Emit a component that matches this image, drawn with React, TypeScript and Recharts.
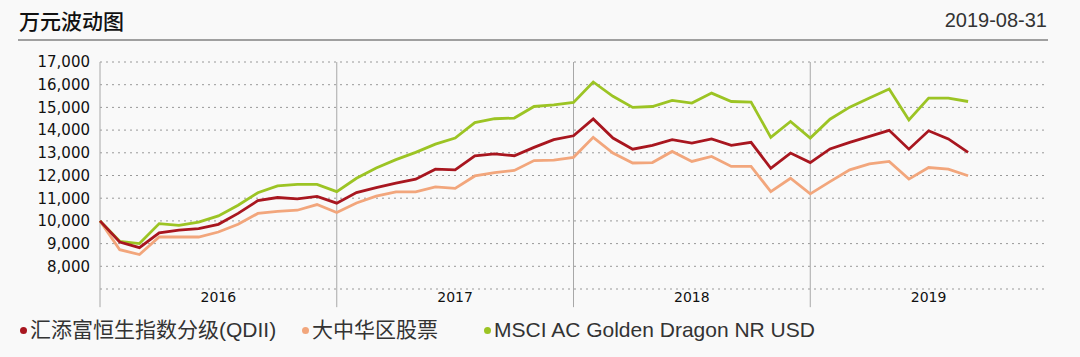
import React from 'react';
import { LineChart, Line, XAxis, YAxis, CartesianGrid, ReferenceLine } from 'recharts';

// month-end points, Dec 2015 .. Aug 2019
const fund = [
    10000, 9070, 8820, 9470, 9590, 9660, 9850, 10330, 10890, 11030, 10970, 11080, 10780,
    11250, 11470, 11660, 11840, 12280, 12250, 12870, 12950, 12870, 13240, 13580, 13750,
    14490, 13650, 13160, 13330, 13580, 13430, 13610, 13330, 13460, 12320, 12990, 12570,
    13170, 13460, 13720, 13990, 13160, 13970, 13610, 13020,
];
const category = [
    10000, 8730, 8520, 9290, 9290, 9290, 9510, 9850, 10330, 10420, 10470, 10720, 10370,
    10790, 11090, 11280, 11280, 11500, 11430, 11980, 12130, 12220, 12660, 12680, 12800,
    13680, 12990, 12550, 12570, 13060, 12620, 12840, 12400, 12400, 11290, 11880, 11190,
    11730, 12250, 12510, 12620, 11840, 12350, 12280, 11990,
];
const benchmark = [
    10000, 9100, 9000, 9880, 9800, 9950, 10220, 10690, 11240, 11540, 11610, 11610, 11290,
    11880, 12330, 12700, 13020, 13380, 13650, 14330, 14500, 14530, 15040, 15110, 15220,
    16120, 15490, 15000, 15040, 15310, 15190, 15630, 15260, 15230, 13680, 14380, 13650,
    14480, 15010, 15410, 15810, 14450, 15410, 15410, 15260,
];
const years = ['2016', '2017', '2018', '2019'];
const yTicks = [8000, 9000, 10000, 11000, 12000, 13000, 14000, 15000, 16000, 17000];
const names = ['汇添富恒生指数分级(QDII)', '大中华区股票', 'MSCI AC Golden Dragon NR USD'];
const colors = ['#a8161f', '#f2a67c', '#9cc424'];
const legendLeft = [20, 302, 484];

const data = fund.map((v, i) => ({ i, fund: v, category: category[i], benchmark: benchmark[i] }));
const yearTicks = years.map((_, k) => k * 12 + 6);
const dividers = [0, 12, 24, 36];

const App: React.FC = () => {
    return (
        <div style={{ position: 'absolute', left: 0, top: 0, width: 1080, height: 357, background: '#f9f9f9', fontFamily: '"Liberation Sans", Arial, sans-serif' }}>
            <div style={{ position: 'absolute', left: 19, top: 6, fontSize: 21, fontWeight: 500, color: '#111', fontFamily: '"Noto Sans CJK SC", sans-serif', lineHeight: '28px' }}>万元波动图</div>
            <div style={{ position: 'absolute', right: 33, top: 7, fontSize: 20, color: '#333', lineHeight: '26px' }}>2019-08-31</div>
            <div style={{ position: 'absolute', left: 18, top: 39, width: 1030, height: 2, background: '#a0a0a0' }} />
            <LineChart width={1080} height={357} data={data} margin={{ top: 62, right: 33, left: 10, bottom: 38 }}>
                <CartesianGrid vertical={false} stroke="#999" strokeDasharray="2 4" />
                <XAxis
                    dataKey="i"
                    type="number"
                    domain={[0, 48]}
                    ticks={yearTicks}
                    tickFormatter={(v: number) => years[Math.floor(v / 12)]}
                    axisLine={false}
                    tickLine={false}
                    tickMargin={-3}
                    height={30}
                    tick={{ fill: '#111', fontSize: 14, fontFamily: '"DejaVu Sans", Verdana, sans-serif' }}
                />
                <YAxis
                    type="number"
                    domain={[7000, 17000]}
                    ticks={yTicks}
                    tickFormatter={(v: number) => v.toLocaleString('en-US')}
                    axisLine={false}
                    tickLine={false}
                    tickMargin={4}
                    width={90}
                    interval={0}
                    tick={{ fill: '#111', fontSize: 15, fontFamily: '"DejaVu Sans", Verdana, sans-serif' }}
                />
                {dividers.map((d) => (
                    <ReferenceLine
                        key={d}
                        segment={[{ x: d, y: 17000 }, { x: d, y: 6200 }]}
                        stroke="#a8a8a8"
                        strokeWidth={1}
                        ifOverflow="visible"
                    />
                ))}
                <Line type="linear" dataKey="category" stroke={colors[1]} strokeWidth={2.8} dot={false} isAnimationActive={false} />
                <Line type="linear" dataKey="benchmark" stroke={colors[2]} strokeWidth={2.8} dot={false} isAnimationActive={false} />
                <Line type="linear" dataKey="fund" stroke={colors[0]} strokeWidth={2.8} dot={false} isAnimationActive={false} />
            </LineChart>
            {names.map((n, k) => (
                <div key={n} style={{ position: 'absolute', left: legendLeft[k], top: 316, display: 'flex', alignItems: 'center', fontSize: 21, color: '#333', whiteSpace: 'nowrap', lineHeight: '28px' }}>
                    <span style={{ width: 7, height: 7, borderRadius: '50%', background: colors[k], marginRight: 3, display: 'inline-block' }} />
                    <span style={{ fontFamily: '"Liberation Sans", "Noto Sans CJK SC", sans-serif' }}>{n}</span>
                </div>
            ))}
        </div>
    );
};

export default App;
